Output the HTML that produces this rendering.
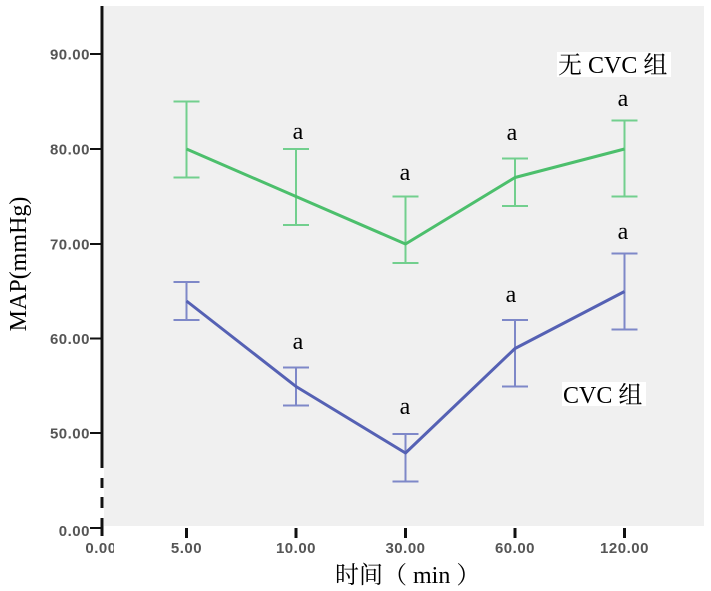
<!DOCTYPE html>
<html>
<head>
<meta charset="utf-8">
<style>
html,body{margin:0;padding:0;background:#fff;}
svg{display:block;}
.tl{font-family:"Liberation Sans",sans-serif;font-size:15px;font-weight:bold;fill:#555;letter-spacing:0.5px;}
.a{font-family:"Liberation Serif",serif;font-size:24px;fill:#000;text-anchor:middle;}
.lg{font-family:"Liberation Serif","Noto Serif CJK SC",serif;font-size:24px;fill:#000;}
</style>
</head>
<body>
<svg width="711" height="591" viewBox="0 0 711 591" xmlns="http://www.w3.org/2000/svg">
<rect x="0" y="0" width="711" height="591" fill="#fff"/>
<!-- plot area -->
<rect x="104" y="6" width="600" height="520" fill="#f0f0f0"/>

<!-- y axis line with break -->
<rect x="100.5" y="6" width="3" height="462" fill="#111"/>
<rect x="100.5" y="478" width="3" height="10" fill="#111"/>
<rect x="100.5" y="497" width="3" height="11" fill="#111"/>
<rect x="100.5" y="518" width="3" height="18" fill="#111"/>

<!-- y ticks -->
<g stroke="#111" stroke-width="2">
<line x1="90" y1="54" x2="102" y2="54"/>
<line x1="90" y1="149" x2="102" y2="149"/>
<line x1="90" y1="244" x2="102" y2="244"/>
<line x1="90" y1="338.5" x2="102" y2="338.5"/>
<line x1="90" y1="433" x2="102" y2="433"/>
<line x1="90" y1="528" x2="102" y2="528"/>
</g>
<g class="tl" text-anchor="end">
<text x="90" y="59.5">90.00</text>
<text x="90" y="154.5">80.00</text>
<text x="90" y="249.5">70.00</text>
<text x="90" y="344">60.00</text>
<text x="90" y="438.5">50.00</text>
<text x="90" y="536">0.00</text>
</g>

<!-- x ticks -->
<g stroke="#111" stroke-width="3">
<line x1="186.5" y1="528" x2="186.5" y2="538"/>
<line x1="296" y1="528" x2="296" y2="538"/>
<line x1="405.5" y1="528" x2="405.5" y2="538"/>
<line x1="515" y1="528" x2="515" y2="538"/>
<line x1="624.5" y1="528" x2="624.5" y2="538"/>
</g>
<defs><clipPath id="c0"><rect x="60" y="530" width="54" height="40"/></clipPath></defs>
<g class="tl" text-anchor="middle">
<text x="101" y="553" clip-path="url(#c0)">0.00</text>
<text x="186.5" y="553">5.00</text>
<text x="296" y="553">10.00</text>
<text x="405.5" y="553">30.00</text>
<text x="515" y="553">60.00</text>
<text x="624.5" y="553">120.00</text>
</g>

<!-- green error bars -->
<g stroke="#72cf8e" stroke-width="2" fill="none">
<path d="M186.5 101.5V177.5M173.5 101.5H199.5M173.5 177.5H199.5"/>
<path d="M296 149V225M283 149H309M283 225H309"/>
<path d="M405.5 196.5V263M392.5 196.5H418.5M392.5 263H418.5"/>
<path d="M515 158.5V206M502 158.5H528M502 206H528"/>
<path d="M624.5 120.5V196.5M611.5 120.5H637.5M611.5 196.5H637.5"/>
</g>
<polyline points="186.5,149 296,196.5 405.5,244 515,177.5 624.5,149" fill="none" stroke="#4cbf6c" stroke-width="3" stroke-linejoin="round"/>

<!-- blue error bars -->
<g stroke="#7e88c8" stroke-width="2" fill="none">
<path d="M186.5 282V320M173.5 282H199.5M173.5 320H199.5"/>
<path d="M296 367.5V405.5M283 367.5H309M283 405.5H309"/>
<path d="M405.5 434V481.5M392.5 434H418.5M392.5 481.5H418.5"/>
<path d="M515 320V386.5M502 320H528M502 386.5H528"/>
<path d="M624.5 253.5V329.5M611.5 253.5H637.5M611.5 329.5H637.5"/>
</g>
<polyline points="186.5,301 296,386.5 405.5,453 515,348.5 624.5,291.5" fill="none" stroke="#5561b4" stroke-width="3" stroke-linejoin="round"/>

<!-- significance labels -->
<text class="a" x="298" y="139">a</text>
<text class="a" x="405" y="180">a</text>
<text class="a" x="512" y="140">a</text>
<text class="a" x="623" y="106">a</text>
<text class="a" x="298" y="349">a</text>
<text class="a" x="405" y="414">a</text>
<text class="a" x="511" y="302">a</text>
<text class="a" x="623" y="239">a</text>

<!-- legends -->
<rect x="557" y="52" width="114" height="25" fill="#fff"/>
<text class="lg" x="558" y="73">无 CVC 组</text>
<rect x="562" y="382" width="84" height="24" fill="#fff"/>
<text class="lg" x="563" y="403">CVC 组</text>

<!-- axis titles -->
<text class="lg" transform="translate(26,264) rotate(-90)" text-anchor="middle">MAP(mmHg)</text>
<text class="lg" x="335" y="583">时间（ min ）</text>
</svg>
</body>
</html>
